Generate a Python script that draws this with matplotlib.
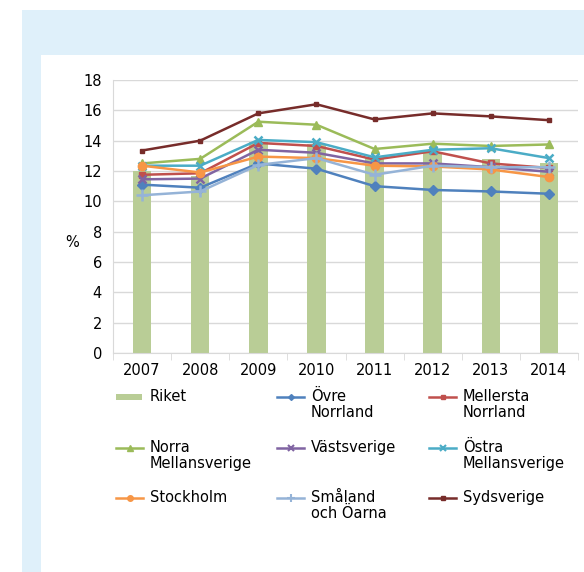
import numpy as np
import matplotlib.pyplot as plt
from matplotlib.patches import Rectangle
from matplotlib.lines import Line2D

years = ['2007', '2008', '2009', '2010', '2011', '2012', '2013', '2014']

riket = [12.0, 11.7, 13.9, 13.8, 12.9, 13.2, 12.8, 12.55]

ovre_norrland = [11.1, 10.9, 12.5, 12.15, 11.0, 10.75, 10.65, 10.5]
mellersta_norrland = [11.75, 11.85, 13.85, 13.65, 12.75, 13.3, 12.5, 12.2]
norra_mellansverige = [12.5, 12.8, 15.25, 15.05, 13.45, 13.8, 13.65, 13.75]
vastsverige = [11.45, 11.5, 13.4, 13.2, 12.5, 12.5, 12.25, 11.95]
ostra_mellansverige = [12.35, 12.35, 14.05, 13.9, 12.9, 13.4, 13.5, 12.85]
stockholm = [12.35, 11.9, 12.95, 12.85, 12.35, 12.3, 12.1, 11.6]
smaland = [10.4, 10.65, 12.4, 12.85, 11.75, 12.35, 12.25, 12.25]
sydsverige = [13.35, 14.0, 15.8, 16.4, 15.4, 15.8, 15.6, 15.35]

# (label, values, colour, marker, markersize)
series = [
    ('Övre\nNorrland', ovre_norrland, '#4F81BD', 'D', 5),
    ('Mellersta\nNorrland', mellersta_norrland, '#C0504D', 's', 5),
    ('Norra\nMellansverige', norra_mellansverige, '#9BBB59', '^', 6),
    ('Västsverige', vastsverige, '#8064A2', 'x', 6),
    ('Östra\nMellansverige', ostra_mellansverige, '#4BACC6', 'x', 6),
    ('Stockholm', stockholm, '#F79646', 'o', 6),
    ('Småland\noch Öarna', smaland, '#95B3D7', '+', 8),
    ('Sydsverige', sydsverige, '#772C2A', 's', 3),
]

fig = plt.figure(figsize=(5.84, 5.72), dpi=100)

# background frame
fig.patches.append(Rectangle((22 / 584, 0), 1, 1 - 10 / 572, transform=fig.transFigure,
                             facecolor='#DFF0FA', edgecolor='none', zorder=-10))
fig.patches.append(Rectangle((41 / 584, 0), 1, 1 - 55 / 572, transform=fig.transFigure,
                             facecolor='white', edgecolor='none', zorder=-9))

ax = fig.add_axes([113 / 584, 1 - 353 / 572, 465 / 584, 273 / 572])
ax.set_facecolor('none')
x = np.arange(len(years))

ax.bar(x, riket, width=0.32, color='#B9CD96', zorder=2)
for label, vals, col, mk, ms in series:
    mew = 1.8 if mk in ('x', '+') else 1
    ax.plot(x, vals, color=col, lw=1.8, marker=mk, ms=ms, mew=mew, zorder=3)

ax.set_xlim(-0.5, 7.5)
ax.set_ylim(0, 18)
ax.set_yticks(range(0, 19, 2))
ax.set_xticks(x)
ax.set_xticklabels(years)
ax.set_xticks(np.arange(-0.5, 8, 1), minor=True)
ax.tick_params(axis='x', which='major', length=0, pad=7, labelsize=10.5)
ax.tick_params(axis='x', which='minor', length=5, color='#D9D9D9', direction='out')
ax.tick_params(axis='y', length=0, pad=8, labelsize=10.5)
ax.grid(axis='y', color='#D9D9D9', lw=1, zorder=0)
for s in ['top', 'right']:
    ax.spines[s].set_visible(False)
ax.spines['left'].set_color('#D9D9D9')
ax.spines['bottom'].set_color('#D9D9D9')
ax.set_ylabel('%', rotation=0, fontsize=10.5, va='center', ha='center')
ax.yaxis.set_label_coords(-0.088, 0.405)

# legend laid out row by row like the original
entries = [('Riket', None, '#B9CD96', None, 0)] + series
col_x = [116, 277, 429]
row_y = [397, 448, 498]
for i, (label, vals, col, mk, ms) in enumerate(entries):
    r, c = divmod(i, 3)
    x0 = col_x[c] / 584
    y0 = 1 - row_y[r] / 572
    if vals is None:
        fig.patches.append(Rectangle((x0, y0 - 3 / 572), 26 / 584, 6 / 572,
                                     transform=fig.transFigure, facecolor=col,
                                     edgecolor='none'))
    else:
        fig.add_artist(Line2D([x0, x0 + 27 / 584], [y0, y0], transform=fig.transFigure,
                              color=col, lw=1.8))
        fig.add_artist(Line2D([x0 + 13.5 / 584], [y0], transform=fig.transFigure,
                              color=col, marker=mk, ms=max(ms - 2, 3),
                              mew=1.5 if mk in ('x', '+') else 1))
    fig.text(x0 + 34 / 584, y0 + 8 / 572, label, fontsize=10.5, va='top', ha='left',
             linespacing=1.05)

fig.savefig('out.png', dpi=100)
